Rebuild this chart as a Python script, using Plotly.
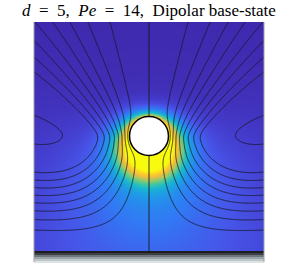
import numpy as np
import plotly.graph_objects as go

# ---- chart parameters / values ----
title_d = 5
title_pe = 14
sphere_radius = 1.0
wall_height = 6.0          # distance sphere centre -> wall (d + 1)
dipole_strength = 0.875
upper_damping = 0.58
x_limits = [-5.9, 5.9]
y_limits = [-5.9, 5.85]
psi_levels = [0.14, 0.33, 0.52, 0.71, 0.90, 1.09, 1.28, 1.47]
island_gap = 0.09

colour_stops = [0.00, 0.06, 0.12, 0.20, 0.30, 0.40, 0.50, 0.60, 0.70, 0.80, 0.90, 1.00]
colour_values = ["rgb(62,38,168)", "rgb(68,60,205)", "rgb(70,85,232)", "rgb(50,120,245)",
                 "rgb(30,155,230)", "rgb(25,185,205)", "rgb(80,200,150)", "rgb(160,200,100)",
                 "rgb(225,190,70)", "rgb(252,200,45)", "rgb(250,225,30)", "rgb(249,251,14)"]
colorscale = [[s, c] for s, c in zip(colour_stops, colour_values)]

# ---- fields ----
xs = np.linspace(x_limits[0], x_limits[1], 321)
ys = np.linspace(y_limits[0], y_limits[1], 321)
X, Y = np.meshgrid(xs, ys)
h = wall_height
R1 = np.sqrt(X**2 + Y**2)
R2 = np.sqrt(X**2 + (Y + 2 * h) ** 2)
Z = Y + h
cos_t = Y / np.maximum(R1, 1e-9)
psi = X**2 * (1 / R1 - 1 / R2 - 2 * h * Z / R2**3) - dipole_strength * X**2 / R1**3
ramp = cos_t * (1 + np.tanh(cos_t / 0.15)) / 2
psi = psi * (1 - upper_damping * ramp)
inside = R1 < sphere_radius
psi[inside] = np.nan

region = (X > 3) & (np.abs(Y) < 2.5)
island_level = float(np.nanmax(np.where(region, psi, np.nan))) - island_gap
levels = psi_levels + [island_level]

u = (1 - cos_t) / 2
delta = 0.28 + 0.82 * u
power = 1 + u**2
c_bl = (0.8 + 0.15 * u) * np.exp(-(np.maximum(R1 - 1, 0) / delta) ** power)
c_far = (0.08 + 1.0 * u**2) / (R1 + 0.8)
conc = c_bl + c_far
conc[inside] = np.nan

fig = go.Figure()
fig.add_trace(go.Heatmap(x=xs, y=ys, z=conc, colorscale=colorscale, zmin=0, zmax=1,
                         showscale=False, zsmooth="best", hoverinfo="skip"))
for lv in levels:
    fig.add_trace(go.Contour(x=xs, y=ys, z=psi, showscale=False, hoverinfo="skip",
                             autocontour=False,
                             contours=dict(coloring="lines", start=lv, end=lv, size=1),
                             colorscale=[[0, "rgb(25,25,35)"], [1, "rgb(25,25,35)"]],
                             line=dict(width=0.8)))
# symmetry axis streamline (psi = 0)
fig.add_trace(go.Scatter(x=[0, 0], y=[sphere_radius, y_limits[1]], mode="lines",
                         line=dict(color="rgb(25,25,35)", width=0.9), hoverinfo="skip"))
fig.add_trace(go.Scatter(x=[0, 0], y=[y_limits[0], -sphere_radius], mode="lines",
                         line=dict(color="rgb(25,25,35)", width=0.9), hoverinfo="skip"))

fig.add_shape(type="circle", x0=-sphere_radius, x1=sphere_radius, y0=-sphere_radius,
              y1=sphere_radius, fillcolor="white", line=dict(color="black", width=1.5))

# wall band below the domain and side borders
band = ["#1e1e22", "#3c4044", "#6c767a", "#98a4a8", "#bcc6c8", "#dde2e3"]
ph = 229.0
for i, col in enumerate(band):
    fig.add_shape(type="rect", xref="paper", yref="paper", x0=0, x1=1,
                  y0=-(i + 1) * 2 / ph, y1=-i * 2 / ph, fillcolor=col, line_width=0, layer="above")
for xp in (0, 1):
    fig.add_shape(type="line", xref="paper", yref="paper", x0=xp, x1=xp, y0=-11 / ph, y1=1,
                  line=dict(color="#a0a0a0", width=1))

en = "\u2002"
fig.add_annotation(text=f"<i>d</i>{en}={en}{title_d},{en}<i>Pe</i>{en}={en}{title_pe},{en}Dipolar base-state",
                   xref="paper", yref="paper", x=0.5, y=1 + 11.5 / ph, xanchor="center",
                   yanchor="middle", showarrow=False,
                   font=dict(family="Liberation Serif", size=17, color="black"))

fig.update_xaxes(range=x_limits, visible=False)
fig.update_yaxes(range=y_limits, visible=False)
fig.update_layout(width=300, height=269, margin=dict(l=34, r=36, t=22, b=18),
                  paper_bgcolor="white", plot_bgcolor="white", showlegend=False)
fig.write_html("out.html", config={"displayModeBar": False, "staticPlot": True},
               post_script="document.body.style.margin='0';document.body.style.overflow='hidden';")
